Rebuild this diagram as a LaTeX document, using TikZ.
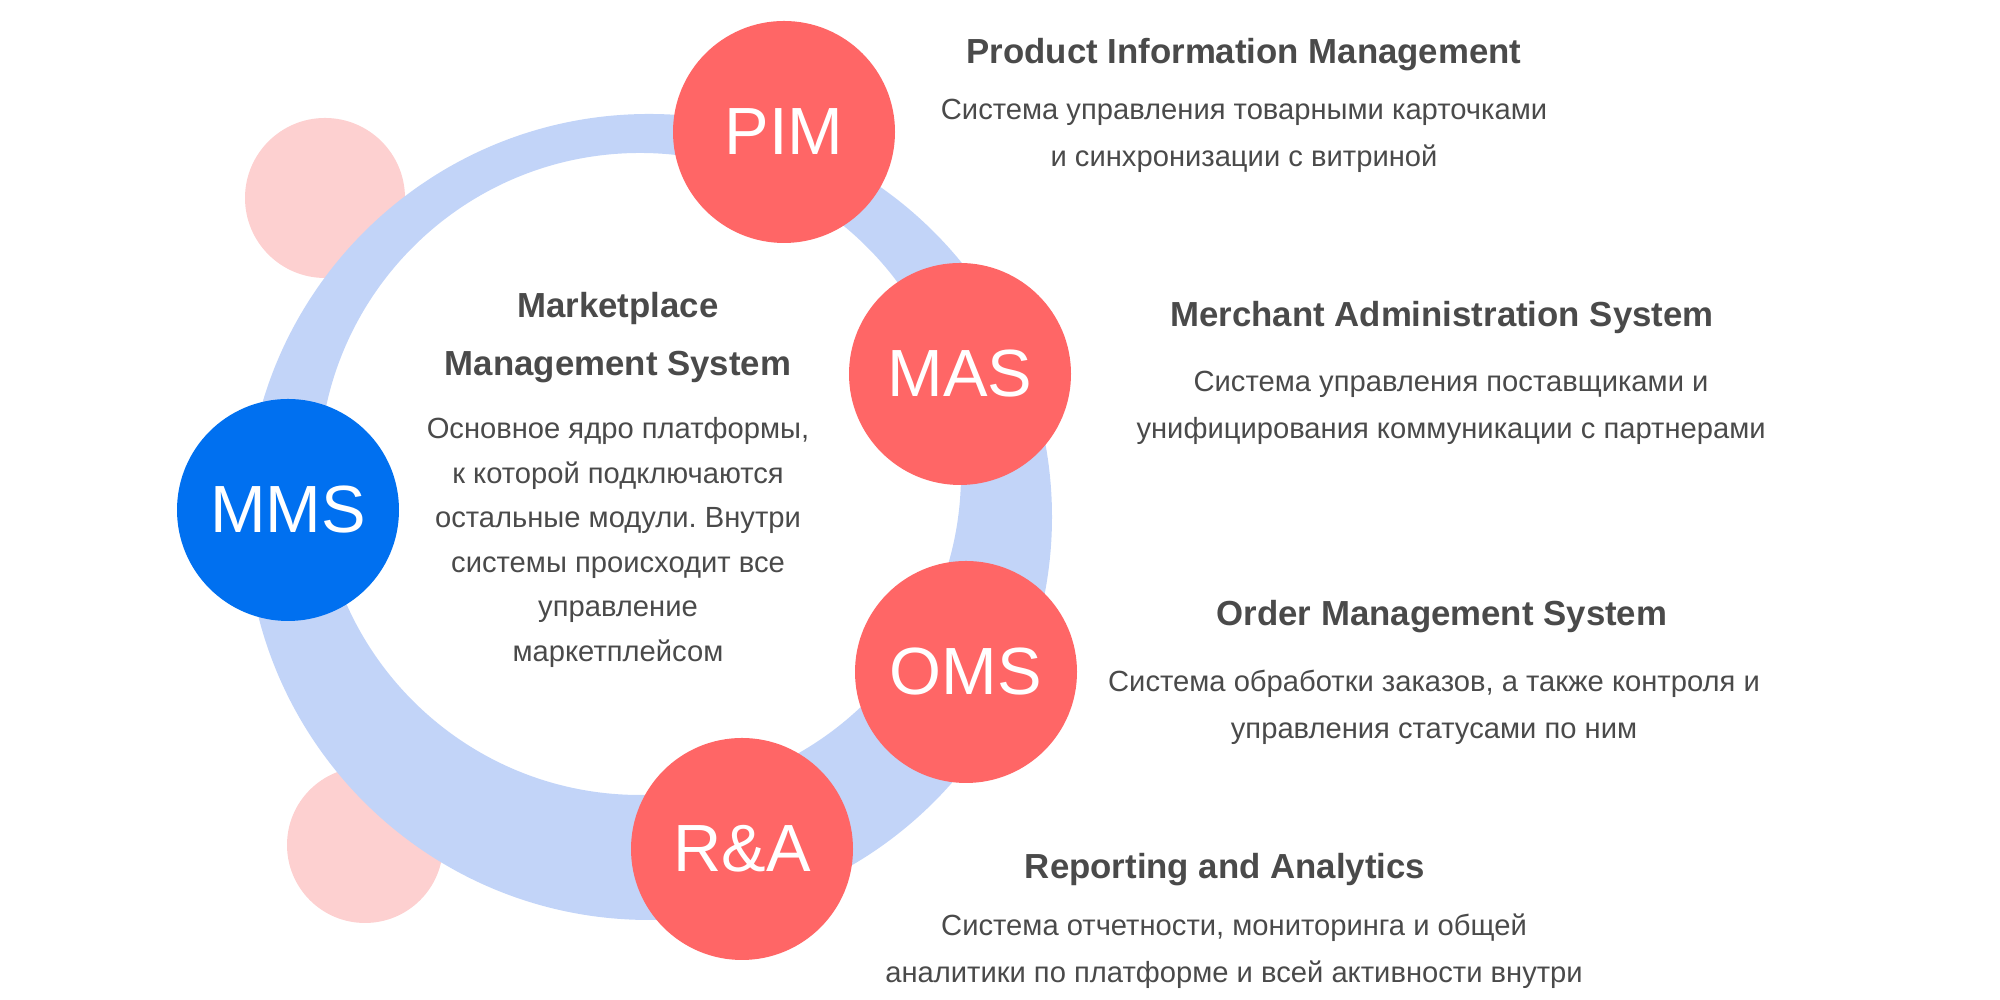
\documentclass[tikz,border=0pt]{standalone}
\usepackage{fontspec}
\setmainfont{Liberation Sans}
\usepackage{tikz}
\frenchspacing

\definecolor{ringblue}{HTML}{C2D4F8}
\definecolor{modred}{HTML}{FF6666}
\definecolor{coreblue}{HTML}{0070F0}
\definecolor{softpink}{HTML}{FDD0D0}
\definecolor{textgray}{HTML}{4A4A4A}

\begin{document}
\begin{tikzpicture}[
    module/.style={circle,fill=modred,minimum size=2.22cm,inner sep=0pt,text=white,font=\fontsize{19}{22}\selectfont},
    core/.style={module,fill=coreblue},
    title/.style={text=textgray,align=center,font=\fontsize{9.9}{16.5}\selectfont\bfseries},
    desc/.style={text=textgray,align=center,font=\fontsize{8.3}{13.4}\selectfont},
    coredesc/.style={desc,font=\fontsize{8.3}{12.7}\selectfont}]
   \useasboundingbox (0,0) rectangle (20,10);

   % decoration behind the ring
   \fill[softpink] (3.25,8.02) circle (0.80);
   \fill[softpink] (3.65,1.55) circle (0.78);
   \fill[ringblue,even odd rule] (6.49,4.83) circle (4.03) (6.40,5.26) circle (3.21);

   % modules
   \draw (7.84,8.68) node[module] (pim) {PIM};
   \draw (9.60,6.26) node[module] (mas) {MAS};
   \draw (9.66,3.28) node[module] (oms) {OMS};
   \draw (7.42,1.51) node[module] (ra) {R\&A};
   \draw (2.88,4.90) node[core] (mms) {MMS};

   % core text
   \draw (6.18,6.62) node[title] (mmstitle) {Marketplace\\Management System};
   \draw (6.18,4.575) node[coredesc] (mmsdesc) {Основное ядро платформы,\\к которой подключаются\\остальные модули. Внутри\\системы происходит все\\управление\\маркетплейсом};

   % module texts
   \draw (12.44,9.45) node[title] (pimtitle) {Product Information Management};
   \draw (12.44,8.64) node[desc] (pimdesc) {Система управления товарными карточками\\и синхронизации с витриной};
   \draw (14.42,6.82) node[title] (mastitle) {Merchant Administration System};
   \draw (14.51,5.92) node[desc] (masdesc) {Система управления поставщиками и\\унифицирования коммуникации с партнерами};
   \draw (14.42,3.83) node[title] (omstitle) {Order Management System};
   \draw (14.34,2.93) node[desc] (omsdesc) {Система обработки заказов, а также контроля и\\управления статусами по ним};
   \draw (12.25,1.30) node[title] (ratitle) {Reporting and Analytics};
   \draw (12.34,0.49) node[desc] (radesc) {Система отчетности, мониторинга и общей\\аналитики по платформе и всей активности внутри};
\end{tikzpicture}
\end{document}
